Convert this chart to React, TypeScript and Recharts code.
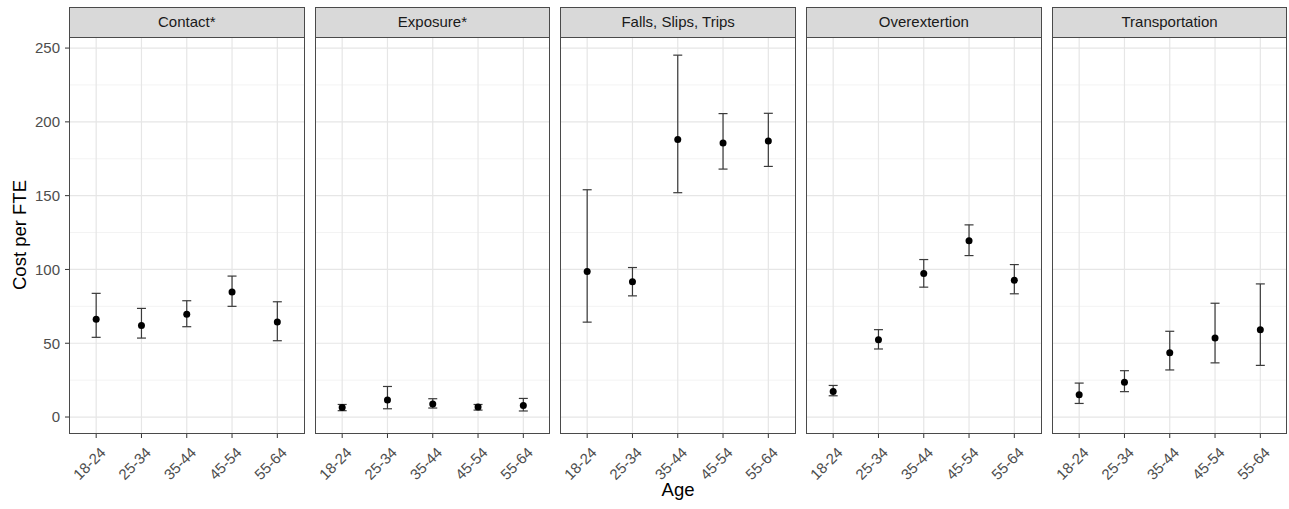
import React from "react";
import {
  CartesianGrid,
  ErrorBar,
  Scatter,
  ScatterChart,
  XAxis,
  YAxis,
} from "recharts";

const AGES = ["18-24", "25-34", "35-44", "45-54", "55-64"];
const CATEGORIES = [
  "Contact*",
  "Exposure*",
  "Falls, Slips, Trips",
  "Overextertion",
  "Transportation",
];

const contactCost = [66.2, 62.1, 69.6, 84.7, 64.4];
const contactLow = [54.0, 53.5, 61.2, 75.0, 51.7];
const contactHigh = [83.8, 73.6, 78.8, 95.5, 78.1];

const exposureCost = [6.5, 11.5, 8.8, 6.8, 7.8];
const exposureLow = [4.3, 5.6, 6.1, 4.7, 4.1];
const exposureHigh = [8.5, 20.7, 12.4, 8.5, 12.6];

const fallsCost = [98.6, 91.6, 188.0, 185.7, 187.0];
const fallsLow = [64.3, 82.1, 152.0, 168.0, 169.8];
const fallsHigh = [154.0, 101.3, 245.2, 205.6, 205.8];

const overCost = [17.3, 52.4, 97.2, 119.4, 92.7];
const overLow = [14.4, 46.1, 88.0, 109.4, 83.5];
const overHigh = [21.4, 59.2, 106.7, 130.2, 103.3];

const transportCost = [15.1, 23.5, 43.6, 53.6, 59.2];
const transportLow = [9.2, 17.2, 31.9, 36.7, 35.0];
const transportHigh = [23.0, 31.4, 58.1, 77.1, 90.2];

const Y_MAJOR = [0, 50, 100, 150, 200, 250];
const Y_MINOR = [25, 75, 125, 175, 225];

const SERIES = [
  { cost: contactCost, low: contactLow, high: contactHigh },
  { cost: exposureCost, low: exposureLow, high: exposureHigh },
  { cost: fallsCost, low: fallsLow, high: fallsHigh },
  { cost: overCost, low: overLow, high: overHigh },
  { cost: transportCost, low: transportLow, high: transportHigh },
];

const FONT = '"Liberation Sans", Arial, sans-serif';
const PANEL_TOP = 37;
const PANEL_H = 397;
const PANEL_W = 235.5;
const PANEL_STEP = 245.7;
const FIRST_LEFT = 69;
const Y_AXIS_W = 69;
const X_AXIS_H = 70;
const Y_DOMAIN = [-11.5, 257.5];
const BORDER = "1.5px solid #4a4a4a";

const AgeTick = (props: any) => {
  const { x, y, payload } = props;
  const ax = x + 3;
  const ay = y + 6;
  return (
    <text
      x={ax}
      y={ay}
      dy="0.71em"
      textAnchor="end"
      transform={`rotate(-45 ${ax} ${ay})`}
      fill="#4d4d4d"
      fontSize={15}
      fontFamily={FONT}
    >
      {AGES[payload.value]}
    </text>
  );
};

const Dot = (props: any) => (
  <circle cx={props.cx} cy={props.cy} r={3.5} fill="#000" />
);

function Panel({ index }: { index: number }) {
  const s = SERIES[index];
  const data = AGES.map((_, i) => ({
    x: i,
    cost: s.cost[i],
    err: [s.cost[i] - s.low[i], s.high[i] - s.cost[i]],
  }));
  const left = FIRST_LEFT + index * PANEL_STEP;
  const withAxis = index === 0;
  const chartLeft = withAxis ? left - Y_AXIS_W : left;
  const chartW = withAxis ? PANEL_W + Y_AXIS_W : PANEL_W;

  return (
    <>
      <div
        style={{
          position: "absolute",
          left,
          top: 7,
          width: PANEL_W,
          height: PANEL_TOP - 7 + 1,
          boxSizing: "border-box",
          background: "#d9d9d9",
          border: BORDER,
          color: "#1a1a1a",
          fontFamily: FONT,
          fontSize: 15,
          lineHeight: "28px",
          textAlign: "center",
        }}
      >
        {CATEGORIES[index]}
      </div>
      <div style={{ position: "absolute", left: chartLeft, top: PANEL_TOP }}>
        <ScatterChart
          width={chartW}
          height={PANEL_H + X_AXIS_H}
          margin={{ top: 0, right: 0, bottom: 0, left: 0 }}
        >
          <CartesianGrid
            horizontalValues={Y_MINOR}
            vertical={false}
            stroke="#f3f3f3"
            strokeWidth={1}
          />
          <CartesianGrid
            horizontalValues={Y_MAJOR}
            verticalValues={[0, 1, 2, 3, 4]}
            stroke="#e6e6e6"
            strokeWidth={1.2}
          />
          <XAxis
            type="number"
            dataKey="x"
            domain={[-0.6, 4.6]}
            ticks={[0, 1, 2, 3, 4]}
            allowDataOverflow
            height={X_AXIS_H}
            axisLine={false}
            tickSize={4}
            tickLine={{ stroke: "#333" }}
            tick={<AgeTick />}
            interval={0}
          />
          <YAxis
            type="number"
            dataKey="cost"
            domain={Y_DOMAIN}
            ticks={Y_MAJOR}
            allowDataOverflow
            hide={!withAxis}
            width={Y_AXIS_W}
            axisLine={false}
            tickSize={4}
            tickMargin={5}
            tickLine={{ stroke: "#333" }}
            tick={{ fill: "#4d4d4d", fontSize: 15, fontFamily: FONT }}
            interval={0}
          />
          <Scatter data={data} shape={<Dot />} isAnimationActive={false}>
            <ErrorBar
              dataKey="err"
              direction="y"
              width={4.5}
              stroke="#3a3a3a"
              strokeWidth={1.2}
              isAnimationActive={false}
            />
          </Scatter>
        </ScatterChart>
      </div>
      <div
        style={{
          position: "absolute",
          left,
          top: PANEL_TOP,
          width: PANEL_W,
          height: PANEL_H,
          boxSizing: "border-box",
          border: BORDER,
          pointerEvents: "none",
        }}
      />
    </>
  );
}

export default function App() {
  return (
    <div
      style={{
        position: "absolute",
        left: 0,
        top: 0,
        width: 1289,
        height: 509,
        background: "#fff",
        overflow: "hidden",
      }}
    >
      {CATEGORIES.map((_, i) => (
        <Panel key={i} index={i} />
      ))}
      <div
        style={{
          position: "absolute",
          left: 20,
          top: 235,
          transform: "translate(-50%, -50%) rotate(-90deg)",
          fontFamily: FONT,
          fontSize: 18.5,
          color: "#000",
          whiteSpace: "nowrap",
        }}
      >
        Cost per FTE
      </div>
      <div
        style={{
          position: "absolute",
          left: 678,
          top: 490,
          transform: "translate(-50%, -50%)",
          fontFamily: FONT,
          fontSize: 18.5,
          color: "#000",
          whiteSpace: "nowrap",
        }}
      >
        Age
      </div>
    </div>
  );
}
